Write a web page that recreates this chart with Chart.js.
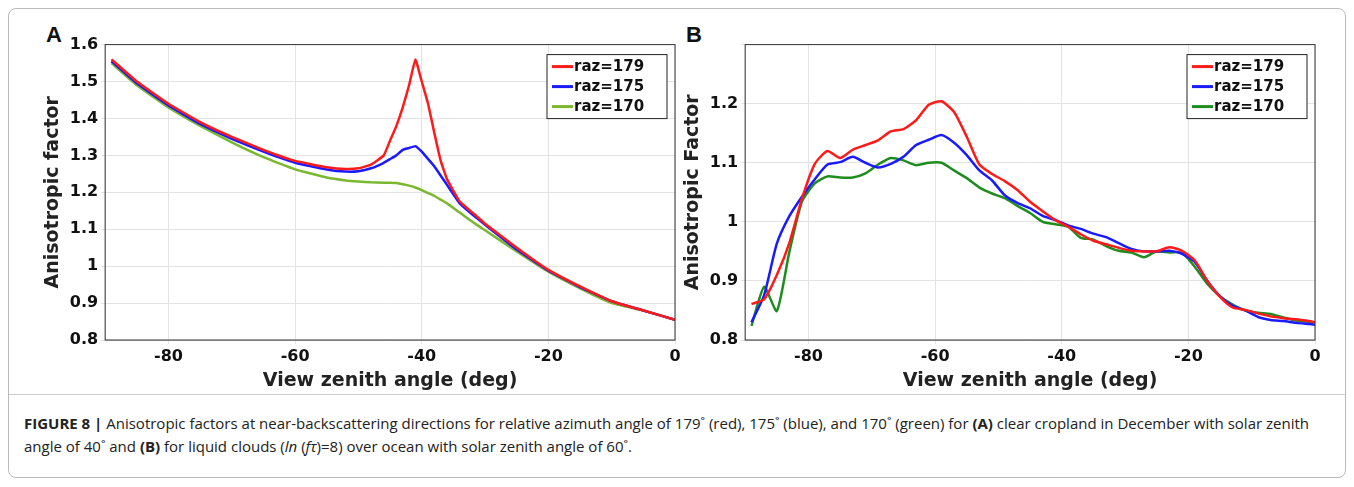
<!DOCTYPE html>
<html>
<head>
<meta charset="utf-8">
<script src="https://cdn.jsdelivr.net/npm/chart.js@4.4.0/dist/chart.umd.min.js"></script>
<style>
  body { margin: 0; background: #fff; font-family: "Open Sans", sans-serif; }
  #frame { position: absolute; left: 8px; top: 8px; width: 1336px; height: 468px; border: 1px solid #bbb; border-radius: 8px; }
  .panel { position: absolute; }
  .lbl { position: absolute; font: bold 22px "Liberation Sans", Arial, sans-serif; color: #111; }
  #sep { position: absolute; left: 9px; top: 394px; width: 1336px; border-top: 1px solid #ccc; }
  #caption { position: absolute; left: 24px; top: 412px; width: 1300px; font-size: 15px; line-height: 23px; color: #222; }
</style>
</head>
<body>
<div id="frame"></div>
<div class="lbl" style="left:46px;top:22px">A</div>
<div class="lbl" style="left:686px;top:22px">B</div>
<div class="panel" style="left:40px;top:32px;width:645px;height:360px"><canvas id="chartA"></canvas></div>
<div class="panel" style="left:680px;top:32px;width:645px;height:360px"><canvas id="chartB"></canvas></div>
<div id="sep"></div>
<div id="caption"><b>FIGURE 8 |</b> Anisotropic factors at near-backscattering directions for relative azimuth angle of 179˚ (red), 175˚ (blue), and 170˚ (green) for <b>(A)</b> clear cropland in December with solar zenith angle of 40˚ and <b>(B)</b> for liquid clouds (<i>ln</i> (<i>fτ</i>)=8) over ocean with solar zenith angle of 60˚.</div>
<script>
// panel A: clear cropland
const xA = [-89,-85,-80,-75,-70,-65,-60,-55,-52,-50,-48,-46,-45,-44,-43,-42,-41,-40,-39,-38,-37,-36,-34,-32,-30,-25,-20,-15,-10,-5,0];
const red179A = [1.56,1.50,1.44,1.39,1.35,1.315,1.285,1.268,1.263,1.265,1.275,1.30,1.34,1.38,1.43,1.49,1.56,1.50,1.44,1.36,1.285,1.235,1.175,1.145,1.115,1.05,0.99,0.945,0.905,0.88,0.855];
const blue175A = [1.555,1.495,1.435,1.385,1.345,1.31,1.28,1.262,1.256,1.257,1.265,1.28,1.29,1.30,1.315,1.32,1.325,1.31,1.29,1.27,1.245,1.22,1.17,1.14,1.112,1.045,0.988,0.943,0.905,0.88,0.855];
const green170A = [1.55,1.49,1.43,1.38,1.335,1.295,1.262,1.24,1.232,1.229,1.227,1.226,1.226,1.225,1.222,1.218,1.213,1.206,1.198,1.19,1.18,1.17,1.145,1.12,1.097,1.04,0.985,0.94,0.9,0.88,0.855];

// panel B: liquid clouds over ocean
const xB = [-89,-87,-85,-83,-81,-79,-77,-75,-73,-71,-69,-67,-65,-63,-61,-59,-57,-55,-53,-51,-49,-47,-45,-43,-41,-39,-37,-35,-33,-31,-29,-27,-25,-23,-21,-19,-17,-15,-13,-11,-9,-7,-5,-3,-1,0];
const red179B = [0.861,0.869,0.91,0.965,1.04,1.098,1.12,1.108,1.122,1.13,1.138,1.153,1.157,1.172,1.198,1.204,1.186,1.144,1.097,1.081,1.069,1.054,1.034,1.018,1.003,0.992,0.979,0.968,0.962,0.956,0.951,0.95,0.95,0.957,0.951,0.935,0.9,0.873,0.855,0.851,0.845,0.84,0.837,0.835,0.832,0.83];
const blue175B = [0.83,0.876,0.963,1.01,1.043,1.072,1.097,1.101,1.11,1.1,1.092,1.098,1.11,1.13,1.139,1.147,1.134,1.113,1.087,1.07,1.045,1.032,1.023,1.01,1.003,0.994,0.988,0.98,0.974,0.964,0.954,0.95,0.95,0.951,0.946,0.932,0.9,0.874,0.858,0.85,0.839,0.834,0.832,0.829,0.827,0.826];
const green170B = [0.824,0.89,0.849,0.95,1.035,1.065,1.077,1.075,1.075,1.082,1.097,1.108,1.104,1.096,1.1,1.1,1.087,1.074,1.058,1.048,1.04,1.027,1.015,1.0,0.996,0.992,0.973,0.97,0.959,0.951,0.948,0.94,0.95,0.948,0.948,0.924,0.895,0.874,0.86,0.85,0.846,0.844,0.838,0.833,0.831,0.83];

const labels = ["raz=179", "raz=175", "raz=170"];
const ticksX = [-80, -60, -40, -20, 0];

function pares(xs, ys) {
    return xs.map((x, i) => ({ x: x, y: ys[i] }));
}

// caja de leyenda dentro del area y marco del grafico
const cajaPlugin = {
    id: "caja",
    afterDraw(chart) {
        const ctx = chart.ctx;
        const a = chart.chartArea;
        ctx.save();
        ctx.strokeStyle = "#333";
        ctx.lineWidth = 1;
        ctx.strokeRect(a.left, a.top, a.right - a.left, a.bottom - a.top);
        const w = 120, h = 64, x = a.right - w - 8, y = a.top + 10;
        ctx.fillStyle = "#fff";
        ctx.fillRect(x, y, w, h);
        ctx.strokeStyle = "#222";
        ctx.strokeRect(x, y, w, h);
        ctx.font = "bold 15px 'DejaVu Sans', sans-serif";
        ctx.textBaseline = "middle";
        chart.data.datasets.forEach((ds, i) => {
            const yy = y + 12 + i * 20;
            ctx.strokeStyle = ds.borderColor;
            ctx.lineWidth = 3;
            ctx.beginPath();
            ctx.moveTo(x + 5, yy);
            ctx.lineTo(x + 26, yy);
            ctx.stroke();
            ctx.fillStyle = "#111";
            ctx.fillText(ds.label, x + 27, yy + 1);
        });
        ctx.restore();
    }
};

function crearGrafico(id, xs, series, colores, ymax, ytitulo, tension) {
    new Chart(document.getElementById(id), {
        type: "line",
        data: {
            datasets: series.map((s, i) => ({
                label: labels[i],
                data: pares(xs, s),
                borderColor: colores[i],
                borderWidth: 2.5,
                pointRadius: 0,
                tension: tension,
                fill: false
            }))
        },
        options: {
            responsive: true,
            maintainAspectRatio: false,
            animation: false,
            plugins: { legend: { display: false }, tooltip: { enabled: false } },
            layout: { padding: { right: 10, top: 10 } },
            scales: {
                x: {
                    type: "linear", min: -90, max: 0,
                    afterBuildTicks: axis => { axis.ticks = ticksX.map(v => ({ value: v })); },
                    ticks: { color: "#111", font: { size: 16, weight: "bold", family: "'DejaVu Sans', sans-serif" } },
                    grid: { color: "#e3e3e3", drawTicks: true, tickLength: 4 },
                    title: { display: true, text: "View zenith angle (deg)", color: "#222", padding: 0,
                             font: { size: 19, weight: "bold", family: "'DejaVu Sans', sans-serif" } }
                },
                y: {
                    min: 0.8, max: ymax,
                    ticks: { stepSize: 0.1, color: "#111",
                             callback: v => (Math.round(v * 10) / 10 === ymax && ymax === 1.3) ? "" : String(Math.round(v * 10) / 10),
                             font: { size: 16, weight: "bold", family: "'DejaVu Sans', sans-serif" } },
                    grid: { color: "#e3e3e3", tickLength: 4 },
                    title: { display: true, text: ytitulo, color: "#222", padding: 2,
                             font: { size: 19, weight: "bold", family: "'DejaVu Sans', sans-serif" } }
                }
            }
        },
        plugins: [cajaPlugin]
    });
}

crearGrafico("chartA", xA, [red179A, blue175A, green170A], ["#ff1a1a", "#1a1aff", "#7ab82e"], 1.6, "Anisotropic factor", 0.1);
crearGrafico("chartB", xB, [red179B, blue175B, green170B], ["#ff1a1a", "#1a1aff", "#1f8c1f"], 1.3, "Anisotropic Factor", 0.2);
</script>
</body>
</html>
